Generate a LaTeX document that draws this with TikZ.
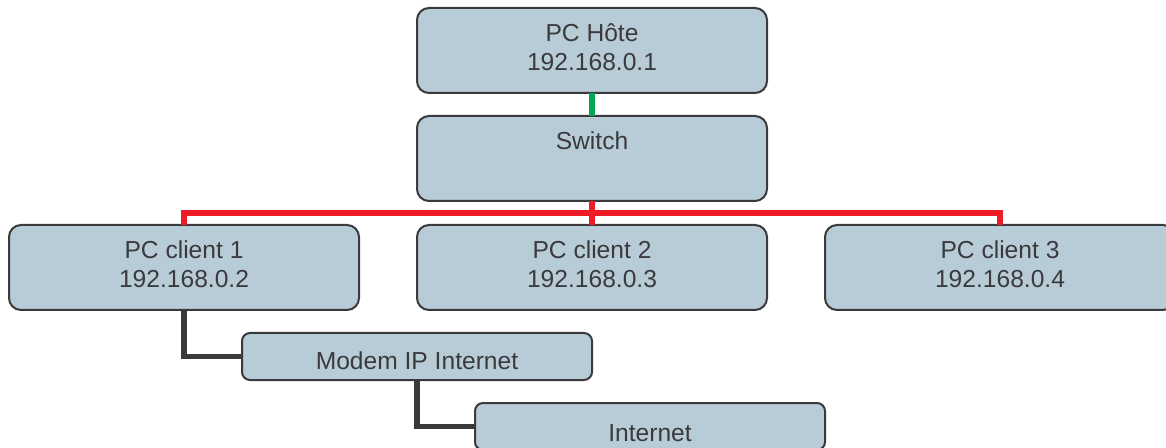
\documentclass[tikz,border=0pt]{standalone}
\usepackage{fontspec}
\setmainfont{Liberation Sans}
\usetikzlibrary{positioning}
\definecolor{boxfill}{HTML}{B8CCD8}
\definecolor{boxline}{HTML}{3A3A3C}
\definecolor{lanred}{HTML}{EE1D25}
\definecolor{langreen}{HTML}{00A651}
\tikzset{
	pcbox/.style={
		rectangle, 
		rounded corners=6pt, 
		minimum width=175pt, 
		minimum height=42.5pt, 
		text centered, 
		align=center,
		draw=boxline, 
		line width=1pt,
		fill=boxfill,
		text=boxline,
		inner sep=0pt,
		outer sep=0pt,
		text depth=3pt,
		font=\fontsize{12.3}{14.5}\selectfont
	},
	modembox/.style={
		pcbox, 
		rounded corners=4pt, 
		minimum height=23.5pt,
		text height=13pt,
		text depth=0pt
	},
	greenlink/.style={langreen, line width=3pt},
	redlink/.style={lanred, line width=3pt},
	blacklink/.style={boxline, line width=2.6pt}
}

\begin{document}
\begin{tikzpicture}
				\useasboundingbox (0,0) rectangle (583pt,-224pt);
				\clip (0,0) rectangle (583pt,-224pt);
				\node (host) [pcbox] at (296pt,-25.25pt) {PC Hôte\\192.168.0.1};
				\node (switch) [pcbox, below=11.5pt of host] {Switch\\\phantom{0}};
				
				\node (client2) [pcbox, below=12pt of switch] {PC client 2\\192.168.0.3};
				\node (client1) [pcbox, left=29pt of client2] {PC client 1\\192.168.0.2};
				\node (client3) [pcbox, right=29pt of client2] {PC client 3\\192.168.0.4};
				
				\node (modem) [modembox, below=11.5pt of client1.south west, anchor=north west, xshift=116.5pt] {Modem IP Internet};
				\node (internet) [modembox, text height=15pt, below=11.5pt of modem.south west, anchor=north west, xshift=116.5pt] {Internet};
				
				\coordinate [below=6pt of switch.south] (bus);
				
				\draw [greenlink] (host) -- (switch);
				\draw [redlink] (switch) -- (client2);
				\draw [redlink] (client1.north) |- (bus) -| (client3.north);
				\draw [blacklink] (client1) |- (modem);
				\draw [blacklink] (modem) |- (internet);
			\end{tikzpicture}
\end{document}
